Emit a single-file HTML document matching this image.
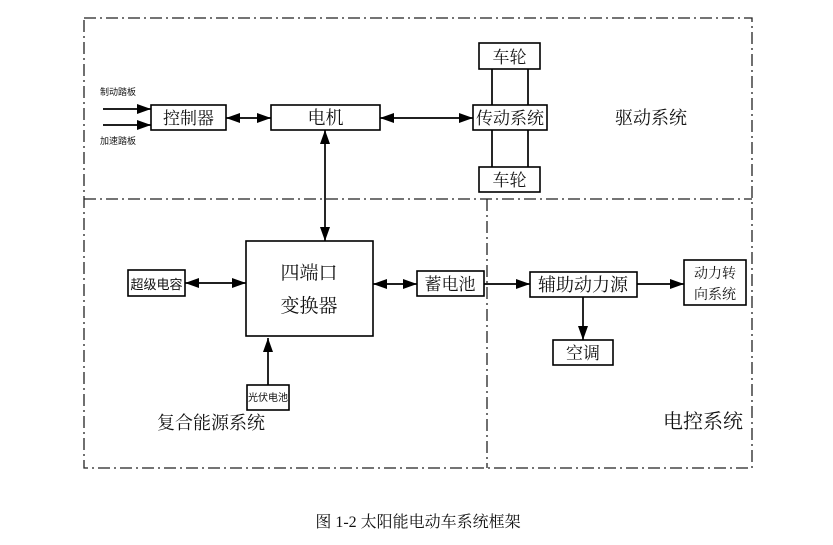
<!DOCTYPE html>
<html><head><meta charset="utf-8"><style>
body{margin:0;background:#fff;}
svg text{font-family:"Liberation Serif","Noto Serif CJK SC","Noto Sans CJK SC",serif;fill:#111;}
.s{font-family:"Liberation Sans","Noto Sans CJK SC",sans-serif !important;}
</style></head><body>
<svg width="833" height="540" viewBox="0 0 833 540" xmlns="http://www.w3.org/2000/svg">
<defs>
<marker id="a" markerWidth="14" markerHeight="10" refX="14" refY="5" orient="auto-start-reverse" markerUnits="userSpaceOnUse"><path d="M0,0L14,5L0,10z" fill="#000"/></marker>
</defs>
<g fill="none" stroke="#222" stroke-width="1.3" stroke-dasharray="12,4,2,4">
<rect x="84" y="18" width="668" height="450"/>
<line x1="84" y1="199" x2="752" y2="199"/>
<line x1="487" y1="199" x2="487" y2="468"/>
</g>
<g fill="#fff" stroke="#000" stroke-width="1.6">
<rect x="151" y="105" width="75" height="25"/>
<rect x="271" y="105" width="109" height="25"/>
<rect x="479" y="43" width="61" height="26"/>
<rect x="479" y="167" width="61" height="25"/>
<rect x="246" y="241" width="127" height="95"/>
<rect x="128" y="270" width="57" height="26"/>
<rect x="417" y="271" width="67" height="25"/>
<rect x="530" y="272" width="107" height="25"/>
<rect x="684" y="260" width="62" height="45"/>
<rect x="553" y="340" width="60" height="25"/>
<rect x="247" y="385" width="42" height="25"/>
</g>
<g stroke="#000" stroke-width="1.7" fill="none">
<line x1="492" y1="69" x2="492" y2="105"/><line x1="528" y1="69" x2="528" y2="105"/>
<line x1="492" y1="130" x2="492" y2="167"/><line x1="528" y1="130" x2="528" y2="167"/>
<line x1="103" y1="109" x2="151" y2="109" marker-end="url(#a)"/>
<line x1="103" y1="125" x2="151" y2="125" marker-end="url(#a)"/>
<line x1="226" y1="118" x2="271" y2="118" marker-start="url(#a)" marker-end="url(#a)"/>
<line x1="380" y1="118" x2="473" y2="118" marker-start="url(#a)" marker-end="url(#a)"/>
<line x1="325" y1="130" x2="325" y2="241" marker-start="url(#a)" marker-end="url(#a)"/>
<line x1="185" y1="283" x2="246" y2="283" marker-start="url(#a)" marker-end="url(#a)"/>
<line x1="373" y1="284" x2="417" y2="284" marker-start="url(#a)" marker-end="url(#a)"/>
<line x1="484" y1="284" x2="530" y2="284" marker-end="url(#a)"/>
<line x1="637" y1="284" x2="684" y2="284" marker-end="url(#a)"/>
<line x1="583" y1="297" x2="583" y2="340" marker-end="url(#a)"/>
<line x1="268" y1="385" x2="268" y2="338" marker-end="url(#a)"/>
</g>
<rect x="473" y="105" width="74" height="25" fill="#fff" stroke="#000" stroke-width="1.6"/>
<g text-anchor="middle">
<text x="188.5" y="124" font-size="17">控制器</text>
<text x="325.5" y="124" font-size="18">电机</text>
<text x="510" y="124" font-size="17">传动系统</text>
<text x="509.5" y="63" font-size="17">车轮</text>
<text x="509.5" y="186" font-size="17">车轮</text>
<text x="309" y="279" font-size="19">四端口</text>
<text x="309" y="312" font-size="19">变换器</text>
<text x="156.5" y="289" font-size="13" class="s">超级电容</text>
<text x="450" y="290" font-size="17">蓄电池</text>
<text x="583" y="291" font-size="18">辅助动力源</text>
<text x="715" y="278" font-size="14">动力转</text>
<text x="715" y="299" font-size="14">向系统</text>
<text x="583" y="359" font-size="17">空调</text>
<text x="268" y="401" font-size="10" class="s">光伏电池</text>
<text x="651" y="124" font-size="18">驱动系统</text>
<text x="211" y="429" font-size="18">复合能源系统</text>
<text x="703" y="428" font-size="20">电控系统</text>
<text x="118" y="95" font-size="9" class="s">制动踏板</text>
<text x="118" y="144" font-size="9" class="s">加速踏板</text>
<text x="418" y="527" font-size="16">图 1-2  太阳能电动车系统框架</text>
</g>
</svg>
</body></html>
